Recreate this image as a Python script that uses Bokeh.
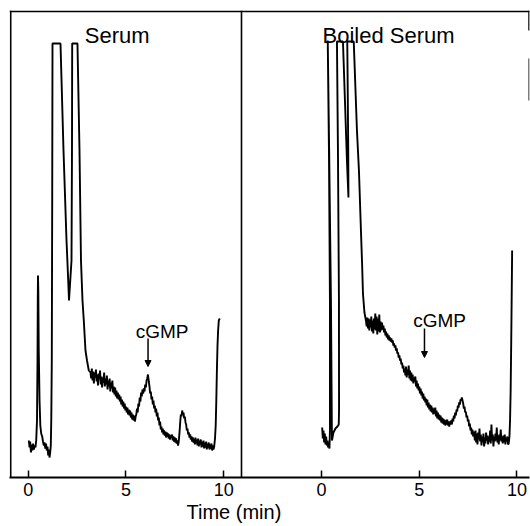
from bokeh.plotting import figure
from bokeh.models import Range1d, FixedTicker, Label, Span, Arrow, NormalHead, Title
from bokeh.embed import file_html
from bokeh.resources import INLINE

FONT = "Liberation Sans"

# ---------------- data: Serum (left panel), time in min, detector response (arbitrary units)
serum_t_a = [0.03,0.07,0.10,0.14,0.18,0.22,0.25,0.29,0.33,0.37,0.41,
             0.45,0.476,0.49,0.50,0.517,0.54,0.58,0.62,0.665,0.716,
             0.757,0.80,0.834,0.875,0.91,0.95,0.987,1.023,1.054,1.09,1.125,1.156,1.18,1.207,1.228,1.243,
             1.652,
             1.806,1.96,2.036,2.087,
             2.215,2.24,2.25,
             2.52,
             2.624,2.70,2.777,2.844,2.93,3.008,3.10,3.187]
serum_y_a = [37,30,36,25,33,27,34,28,32,30,37,
             57,117,177,202,187,127,77,52,44,41,
             36,32,35,29,34,27,31,22,28,20,25,32,57,117,277,434,
             434,
             327,237,202,177,
             217,327,434,
             434,
             327,217,177,157,127,117,107,105]
serum_t_b = [3.220,3.255,3.290,3.325,3.360,3.395,3.430,3.465,3.500,3.535,
             3.570,3.605,3.640,3.675,3.710,3.745,3.780,3.815,3.850,3.885,
             3.920,3.955,3.990,4.025,4.060,4.095,4.130,4.165,4.200,4.235,
             4.270,4.305,4.340,4.375,4.410,4.445,4.480,4.515,4.550,4.585]
serum_y_b = [99,109,97,106,94,105,100,108,96,103,
             92,104,98,107,93,101,90,100,95,105,
             91,99,93,102,88,97,91,99,86,95,
             89,97,85,91,83,90,81,87,79,85]
serum_t_c = [4.620,4.655,4.690,4.725,4.760,4.795,4.830,4.865,4.900,4.935,
             4.970,5.005,5.040,5.075,5.110,5.145,5.180,5.215,5.250,5.285,
             5.320,5.355,5.390,5.425,5.460,5.495]
serum_y_c = [78,83,76,81,73,78,71,76,69,74,
             67,71,65,70,63,68,62,67,60,65,
             58,63,57,62,56,61]
serum_t_d = [5.530,5.565,5.600,5.635,5.670,5.705,5.740,5.775,5.810,5.845,
             5.880,5.915,5.950,5.985,6.020,6.055,6.090,6.125]
serum_y_d = [63,69,65,74,71,80,76,85,81,88,
             84,89,86,93,90,97,99,103]
serum_t_e = [6.170,6.204,6.238,6.272,6.306,6.340,6.374,6.408,6.442,6.476,
             6.510,6.544,6.578,6.612,6.646,6.680,6.714,6.748,6.782,6.816,
             6.850,6.884,6.918,6.952,6.986,7.020,7.054,7.088,7.122,7.156,
             7.190,7.224,7.258,7.292,7.326,7.360,7.394,7.428,7.462,7.496,
             7.530,7.564,7.598,7.632,7.666,7.700]
serum_y_e = [96,91,84,86,78,81,73,77,69,72,
             65,69,61,65,57,60,52,56,48,51,
             45,49,43,47,42,46,40,45,41,44,
             39,43,38,42,40,43,37,41,36,40,
             35,39,34,37,32,36]
serum_t_f = [7.740,7.774,7.808,7.842,7.876,7.910,7.944,7.978,8.012,8.046,
             8.080,8.114,8.148,8.182,8.216,8.250,8.284,8.318,8.352,8.386,
             8.420,8.454]
serum_y_f = [45,55,63,61,67,63,65,59,61,55,
             53,47,49,43,45,40,43,38,41,36,
             40,35]
serum_t_g = [8.490,8.524,8.558,8.592,8.626,8.660,8.694,8.728,8.762,8.796,
             8.830,8.864,8.898,8.932,8.966,9.000,9.034,9.068,9.102,9.136,
             9.170,9.204,9.238,9.272,9.306,9.340,9.374,9.408,9.442,9.476,
             9.514,9.555,9.591,9.622,9.652,9.683,9.714,9.749,9.800]
serum_y_g = [39,33,40,34,38,32,39,31,37,33,
             38,30,36,31,37,29,35,30,36,28,
             34,30,35,28,33,29,34,27,32,28,
             31,39,52,77,107,132,147,157,159]

# ---------------- data: Boiled Serum (right panel)
boiled_t_a = [0.036,0.070,0.104,0.138,0.172,0.206,0.240,0.274,0.308,0.342,0.376,0.410,
              0.434,0.434,0.384,0.322,0.394,0.486,0.537,0.614,0.716,0.818,
              0.885,0.900,0.895,0.844,0.793,1.100,1.202,1.304,1.381,1.371,
              1.340,1.320,1.652,1.816,1.918,2.020,2.082,2.123,2.199,2.276]
boiled_y_a = [50,39,47,35,44,33,41,32,37,30,34,29,
              47,177,327,437,327,177,37,45,49,51,
              53,67,177,327,436,436,377,317,280,327,
              397,436,436,347,307,247,212,184,165,157]
boiled_t_b = [2.312,2.346,2.380,2.414,2.448,2.482,2.516,2.550,2.584,2.618,
              2.652,2.686,2.720,2.754,2.788,2.822,2.856,2.890,2.924,2.958,
              2.992,3.026,3.060,3.094]
boiled_y_b = [151,160,149,159,147,158,150,161,146,157,
              144,159,148,164,147,161,143,159,146,163,
              145,156,147,155]
boiled_t_c = [3.136,3.170,3.204,3.238,3.272,3.306,3.340,3.374,3.408,3.442,
              3.476,3.510,3.544,3.578,3.612,3.646,3.680,3.714,3.748,3.782,
              3.816,3.850,3.884,3.918,3.952,3.986,4.020,4.054,4.088,4.122,
              4.156,4.190,4.224,4.258,4.292,4.326,4.360,4.394,4.428,4.462,
              4.496,4.530,4.564,4.598,4.632,4.666,4.700,4.734,4.768,4.802,
              4.836,4.870,4.904,4.938,4.972,5.006,5.040,5.074,5.108,5.142,
              5.176,5.210,5.244,5.278,5.312,5.346,5.380,5.414,5.448,5.482,
              5.516,5.550,5.584,5.618,5.652,5.686,5.720,5.754,5.788,5.822,
              5.856,5.890,5.924,5.958,5.992,6.026,6.060,6.094,6.128,6.162,
              6.196,6.230,6.264,6.298,6.332,6.366,6.400,6.434,6.468,6.502,
              6.536,6.570,6.604,6.638,6.672]
boiled_y_c = [148,152,145,149,142,146,140,144,138,142,
              137,140,136,139,135,137,132,134,130,132,
              127,129,124,125,120,122,117,119,113,115,
              109,112,105,109,102,111,100,108,103,112,
              99,107,97,105,96,103,94,100,96,101,
              91,97,89,94,87,91,84,89,82,86,
              79,84,77,81,75,79,72,78,70,75,
              68,73,66,72,65,70,63,69,64,70,
              61,67,59,65,58,63,57,62,55,60,
              54,59,53,58,52,57,53,58,52,56,
              51,56,53,57,53]
boiled_t_d = [6.706,6.740,6.774,6.808,6.842,6.876,6.910,6.944,6.978,7.012,
              7.046,7.080,7.114,7.148,7.182,
              7.216,7.250,7.284,7.318,7.352,7.386,7.420,7.454,7.488,7.522,
              7.556,7.590,7.624,7.658,7.692,7.726,7.760]
boiled_y_d = [59,56,62,59,65,62,68,66,72,70,
              75,73,78,77,80,
              77,74,69,71,65,66,60,62,56,58,
              51,54,47,50,43,48,41]
boiled_t_e = [7.811,7.845,7.879,7.913,7.947,7.981,8.015,8.049,8.083,8.117,
              8.151,8.185,8.219,8.253,8.287,8.321,8.355,8.389,8.423,8.457,
              8.491,8.525,8.559,8.593,8.627,8.661,8.695,8.729,8.763,8.797,
              8.831,8.865,8.899,8.933,8.967,9.001,9.035,9.069,9.103,9.137,
              9.171,9.205,9.239,9.273,9.307,9.341,9.375,9.409,9.443,9.477,
              9.511,9.545,9.579,
              9.616,9.647,9.678,9.708,9.734,9.754]
boiled_y_e = [46,37,47,35,44,33,45,38,49,36,
              43,32,41,35,44,31,40,34,45,37,
              42,33,41,36,47,34,53,37,43,31,
              41,36,44,37,50,35,42,33,43,37,
              48,36,41,34,42,35,43,33,40,36,
              41,33,34,
              41,57,87,137,187,227]

serum_time = serum_t_a + serum_t_b + serum_t_c + serum_t_d + serum_t_e + serum_t_f + serum_t_g
serum_signal = serum_y_a + serum_y_b + serum_y_c + serum_y_d + serum_y_e + serum_y_f + serum_y_g
boiled_time = boiled_t_a + boiled_t_b + boiled_t_c + boiled_t_d + boiled_t_e
boiled_signal = boiled_y_a + boiled_y_b + boiled_y_c + boiled_y_d + boiled_y_e

panel_titles = ["Serum", "Boiled Serum"]
tick_values = [0, 5, 10]
tick_labels = ["0", "5", "10"]
cgmp_time = [6.13, 5.27]      # retention time marked by the arrows
PANEL_OFFSET = 15.0           # right panel drawn 15 min to the right

# ---------------- figure
p = figure(width=530, height=526, output_backend="svg", toolbar_location=None,
           x_range=Range1d(-0.9565, 25.642), y_range=Range1d(0, 467),
           y_axis_location=None, min_border_left=9, min_border_right=1,
           min_border_top=10, min_border_bottom=49)
p.outline_line_color = None
p.xgrid.visible = False
p.ygrid.visible = False
p.background_fill_color = "white"
p.border_fill_color = "white"

all_ticks = tick_values + [t + PANEL_OFFSET for t in tick_values]
p.xaxis.ticker = FixedTicker(ticks=all_ticks)
p.xaxis.major_label_overrides = {t + PANEL_OFFSET: lab for t, lab in zip(tick_values, tick_labels)}
p.xaxis.axis_line_width = 2
p.xaxis.axis_line_color = "black"
p.xaxis.major_tick_in = 7
p.xaxis.major_tick_out = 0
p.xaxis.major_tick_line_width = 1.5
p.xaxis.major_tick_line_color = "black"
p.xaxis.minor_tick_line_color = None
p.xaxis.major_label_text_font = FONT
p.xaxis.major_label_text_font_size = "18px"
p.xaxis.major_label_text_color = "black"
p.xaxis.major_label_standoff = 5

# x-axis title, placed in the bottom panel under the axis
p.add_layout(Title(text="Time (min)", align="left", offset=177, standoff=0,
                   text_font=FONT, text_font_size="20px", text_font_style="normal",
                   text_color="black"), "below")

# traces
p.line(serum_time, serum_signal, line_color="black", line_width=1.9)
p.line([t + PANEL_OFFSET for t in boiled_time], boiled_signal, line_color="black", line_width=1.9)

# frame pieces
p.add_layout(Span(location=-0.895, dimension="height", line_color="black", line_width=1.6))
p.add_layout(Span(location=10.91, dimension="height", line_color="black", line_width=1.6))
p.add_layout(Span(location=466.2, dimension="width", line_color="black", line_width=1.7))
p.segment(x0=[25.616, 25.616], y0=[467, 419], x1=[25.616, 25.616], y1=[447, 377],
          line_color="black", line_width=[1.5, 1.0])

# panel titles
p.add_layout(Label(x=4.55, y=442, text=panel_titles[0], text_align="center",
                   text_baseline="alphabetic", text_font=FONT, text_font_size="22px",
                   text_color="black"))
p.add_layout(Label(x=18.43, y=442, text=panel_titles[1], text_align="center",
                   text_baseline="alphabetic", text_font=FONT, text_font_size="22px",
                   text_color="black"))

# cGMP markers
for ct, off, ytxt, y0, y1, dx in [(cgmp_time[0], 0.0, 146, 139, 111, 0.72),
                                  (cgmp_time[1], PANEL_OFFSET, 157, 149, 120, 0.77)]:
    p.add_layout(Label(x=ct + off + dx, y=ytxt, text="cGMP", text_align="center",
                       text_baseline="alphabetic", text_font=FONT, text_font_size="19px",
                       text_color="black"))
    p.add_layout(Arrow(x_start=ct + off, y_start=y0, x_end=ct + off, y_end=y1,
                       line_width=1.5, line_color="black",
                       end=NormalHead(size=6, fill_color="black", line_color="black")))

open("out.html", "w").write(file_html(p, INLINE))
